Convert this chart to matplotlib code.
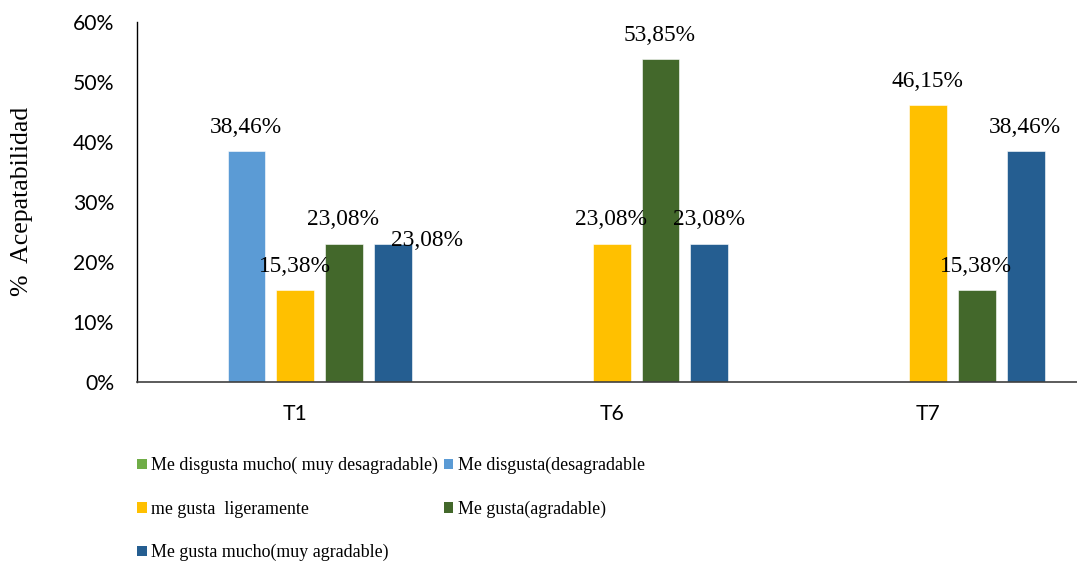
import numpy as np
import matplotlib
matplotlib.use("Agg")
import matplotlib.pyplot as plt
from matplotlib.patches import Patch

# categories and series (fractions of panel)
categories = ["T1", "T6", "T7"]
series_names = [
    "Me disgusta mucho( muy desagradable)",
    "Me disgusta(desagradable",
    "me gusta  ligeramente",
    "Me gusta(agradable)",
    "Me gusta mucho(muy agradable)",
]
muy_desagradable = [0.0, 0.0, 0.0]
desagradable = [0.3846, 0.0, 0.0]
ligeramente = [0.1538, 0.2308, 0.4615]
agradable = [0.2308, 0.5385, 0.1538]
muy_agradable = [0.2308, 0.2308, 0.3846]
colors = ["#70AD47", "#5B9BD5", "#FFC000", "#43682B", "#255E91"]

series = [muy_desagradable, desagradable, ligeramente, agradable, muy_agradable]

serif = "Liberation Serif"
sans = "Lato"

fig = plt.figure(figsize=(10.77, 5.62), dpi=100)
ax = fig.add_axes([137 / 1077, 1 - 382 / 562, 949.5 / 1077, 360 / 562])

x = np.arange(len(categories))
step = 0.154
width = 0.12
for i, (vals, col) in enumerate(zip(series, colors)):
    pos = x + (i - 2) * step
    bars = ax.bar(pos, vals, width, color=col, edgecolor="white", linewidth=0.4)
    for j, (b, v) in enumerate(zip(bars, vals)):
        if v <= 0:
            continue
        label = f"{v * 100:.2f}%".replace(".", ",")
        # Excel pushed this one label to the side
        if i == 4 and j == 0:
            off = (24.5, 2.5)
        else:
            off = (-0.5, 17.0)
        ax.annotate(label, (b.get_x() + b.get_width() / 2, v),
                    xytext=off, textcoords="offset points",
                    ha="center", va="center", fontsize=16.8, family=serif)

ax.set_xlim(-0.5, 2.5)
ax.set_ylim(0, 0.6)
ax.set_yticks(np.arange(0, 0.61, 0.1))
ax.set_yticklabels([f"{int(round(t * 100))}%" for t in np.arange(0, 0.61, 0.1)],
                   family=sans, fontsize=15.2)
ax.set_xticks(x)
ax.set_xticklabels(categories, family=sans, fontsize=15.2)
ax.tick_params(length=0)
ax.tick_params(axis="y", pad=16.5)
ax.tick_params(axis="x", pad=16)

for s in ["top", "right"]:
    ax.spines[s].set_visible(False)
ax.spines["left"].set_color("black")
ax.spines["left"].set_linewidth(1.0)
ax.spines["bottom"].set_color("#404040")
ax.spines["bottom"].set_linewidth(1.2)

fig.text(22 / 1077, 1 - 201 / 562, "%  Acepatabilidad", rotation=90,
         ha="center", va="center", family=serif, fontsize=18.5)

handles = [Patch(facecolor=c, edgecolor="none") for c in colors]
order = [0, 2, 4, 1, 3]
fig.legend([handles[k] for k in order], [series_names[k] for k in order],
           ncol=2, loc="upper left", bbox_to_anchor=(137 / 1077, 1 - 457 / 562),
           frameon=False, borderpad=0, borderaxespad=0,
           handlelength=0.55, handleheight=0.55, handletextpad=0.25,
           columnspacing=0.3, labelspacing=1.47,
           prop={"family": serif, "size": 12.9})

fig.savefig("out.png", dpi=100)
